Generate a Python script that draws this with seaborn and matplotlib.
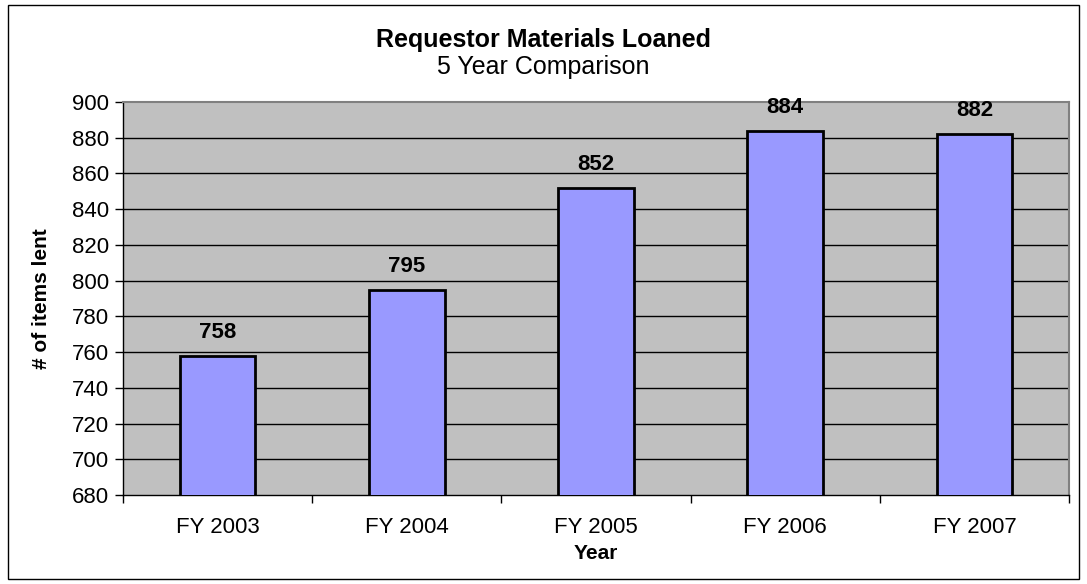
import numpy as np
import pandas as pd
import matplotlib
matplotlib.use('Agg')
import matplotlib.pyplot as plt
import seaborn as sns
from matplotlib.patches import Rectangle

# dados
years = ['FY 2003', 'FY 2004', 'FY 2005', 'FY 2006', 'FY 2007']
items_lent = [758, 795, 852, 884, 882]

df = pd.DataFrame({'year': years, 'items': items_lent})

sns.set_style('white')
plt.rcParams['font.family'] = ['Liberation Sans', 'DejaVu Sans']
plt.rcParams['text.color'] = 'black'
plt.rcParams['xtick.labelcolor'] = 'black'
plt.rcParams['ytick.labelcolor'] = 'black'
plt.rcParams['axes.labelcolor'] = 'black'

fig = plt.figure(figsize=(10.87, 5.84), dpi=100)
ax = fig.add_axes([123 / 1087, 1 - 495 / 584, (1069 - 123) / 1087, (495 - 102) / 584])

ax.set_facecolor('#C0C0C0')
sns.barplot(x='year', y='items', data=df, color='#9999FF', width=0.4,
            edgecolor='black', linewidth=2, saturation=1, ax=ax, zorder=3)

ax.set_ylim(680, 900)
ax.set_yticks(range(680, 901, 20))
ax.tick_params(axis='y', labelsize=16, length=6, width=1, color='black', direction='out', left=True, pad=4)
ax.tick_params(axis='x', labelsize=16, length=0, pad=16)
for y in range(700, 900, 20):
    ax.axhline(y, color='black', linewidth=1, zorder=1)

# ticks entre categorias
ax.set_xticks(np.arange(-0.5, 5, 1), minor=True)
ax.tick_params(axis='x', which='minor', length=6, width=1, color='black', bottom=True)
ax.set_xlim(-0.5, 4.5)

for s in ['top', 'right']:
    ax.spines[s].set_color('#808080')
    ax.spines[s].set_linewidth(1.5)
for s in ['left', 'bottom']:
    ax.spines[s].set_color('black')
    ax.spines[s].set_linewidth(1)

for i, v in enumerate(items_lent):
    ax.text(i, v + 10, str(v), ha='center', va='baseline', fontsize=16, fontweight='bold')

ax.set_xlabel('Year', fontsize=15, fontweight='bold')
ax.xaxis.set_label_coords(0.5, -0.125)
ax.set_ylabel('# of items lent', fontsize=15, fontweight='bold')
ax.yaxis.set_label_coords(-0.076, 0.5)

fig.text(0.5, 1 - 40 / 584, 'Requestor Materials Loaned', ha='center', va='center',
         fontsize=18, fontweight='bold')
fig.text(0.5, 1 - 67 / 584, '5 Year Comparison', ha='center', va='center', fontsize=18)

# moldura da figura
fig.patches.append(Rectangle((8 / 1087, 5 / 584), 1 - 16 / 1087, 1 - 10 / 584,
                             transform=fig.transFigure, fill=False, edgecolor='black', linewidth=1))

fig.savefig('out.png', dpi=100)
